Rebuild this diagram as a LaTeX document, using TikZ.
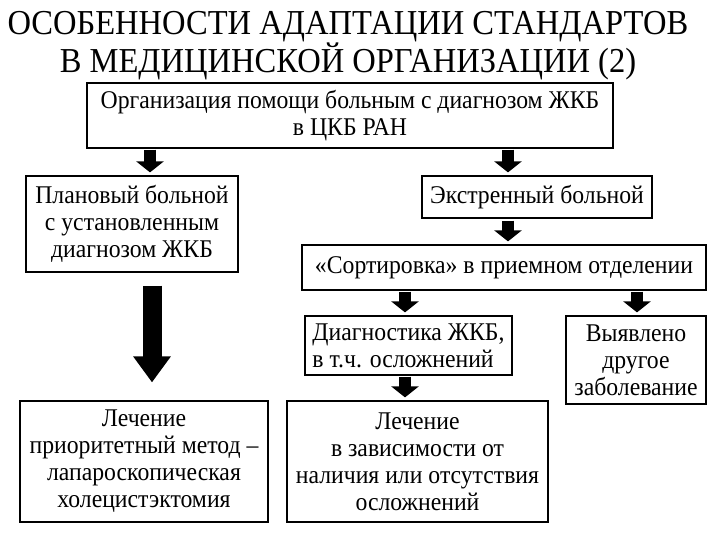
\documentclass[tikz,border=0pt]{standalone}
\usepackage{fontspec}
\setmainfont{Liberation Serif}
\newfontfamily\narrowserif[FakeStretch=0.93]{Liberation Serif}
\usetikzlibrary{arrows.meta,positioning}

\begin{document}
\begin{tikzpicture}[x=1pt,y=-1pt,
  box/.style={draw,line width=1.2pt,align=center,inner sep=2pt,
    font=\narrowserif\fontsize{25.5}{27}\selectfont},
  arrow/.style={line width=12pt,-{Triangle[width=27pt,length=11pt]}},
  bigarrow/.style={line width=19pt,-{Triangle[width=36pt,length=26pt]}}]
\useasboundingbox (0,0) rectangle (720,540);
% heading
\node[font=\narrowserif\fontsize{35}{37}\selectfont,align=center] (title) at (348,46)
  {ОСОБЕННОСТИ АДАПТАЦИИ СТАНДАРТОВ\\В МЕДИЦИНСКОЙ ОРГАНИЗАЦИИ (2)};
% boxes
\node[box,minimum width=526pt,minimum height=65pt] (org) at (350,115.5)
  {Организация помощи больным с диагнозом ЖКБ\\в ЦКБ РАН};
\node[box,minimum width=212pt,minimum height=96pt] (plan) at (132,224)
  {Плановый больной\\с установленным\\диагнозом ЖКБ};
\node[box,minimum width=230pt,minimum height=42pt] (emerg) at (537,197)
  {Экстренный больной};
\node[box,minimum width=404pt,minimum height=45pt] (sort) at (504,267.5)
  {«Сортировка» в приемном отделении};
\node[box,align=left,minimum width=207pt,minimum height=59pt] (diag) at (408.5,345.5)
  {Диагностика ЖКБ,\\в т.ч. осложнений};
\node[box,minimum width=140pt,minimum height=88pt] (other) at (636,360)
  {Выявлено\\другое\\заболевание};
\node[box,minimum width=248pt,minimum height=121pt] (cure1) at (144,461.5)
  {Лечение\\приоритетный метод –\\лапароскопическая\\холецистэктомия};
\node[box,minimum width=261pt,minimum height=121pt] (cure2) at (417.5,461.5)
  {Лечение\\в зависимости от\\наличия или отсутствия\\осложнений};
% arrows
\draw[arrow,shorten <=1pt,shorten >=3pt] (org.south -| 150,0) -- (plan.north -| 150,0);
\draw[arrow,shorten <=1pt,shorten >=3pt] (org.south -| 508,0) -- (emerg.north -| 508,0);
\draw[arrow,shorten <=2pt,shorten >=3pt] (emerg.south -| 508,0) -- (sort.north -| 508,0);
\draw[arrow,shorten <=1pt,shorten >=3pt] (sort.south -| 405,0) -- (diag.north -| 405,0);
\draw[arrow,shorten <=1pt,shorten >=3pt] (sort.south -| 637,0) -- (other.north -| 637,0);
\draw[arrow,shorten <=1pt,shorten >=3pt] (diag.south -| 405,0) -- (cure2.north -| 405,0);
\draw[bigarrow,shorten <=13pt,shorten >=18pt] (plan.south -| 152,0) -- (cure1.north -| 152,0);
\end{tikzpicture}
\end{document}
